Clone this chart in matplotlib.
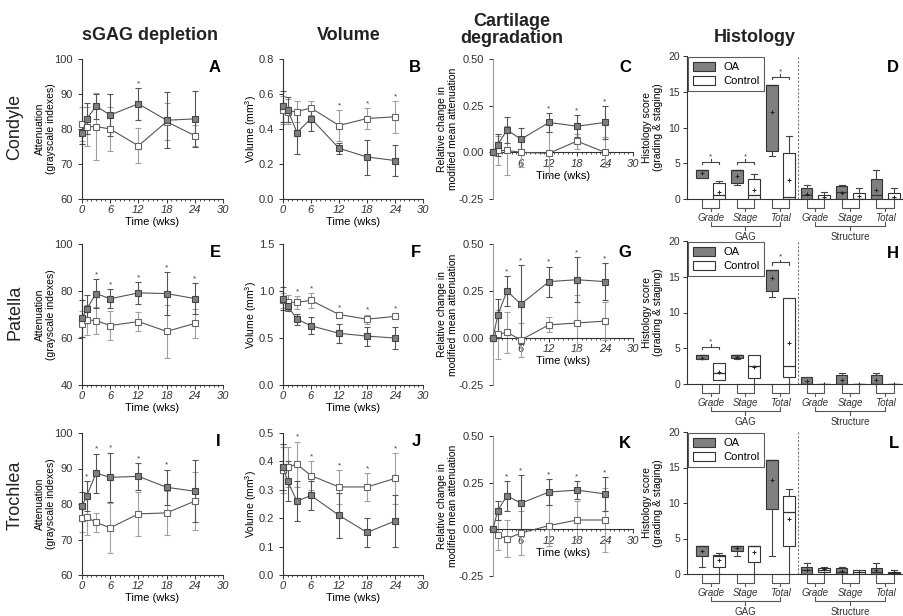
import matplotlib
matplotlib.use("Agg")
import matplotlib.pyplot as plt
from matplotlib.patches import Patch
from matplotlib.transforms import blended_transform_factory

plt.rcParams.update({"font.family": ["Liberation Sans", "DejaVu Sans"], "font.size": 8,
                     "axes.linewidth": 0.8, "axes.edgecolor": "#333333",
                     "xtick.color": "#333333", "ytick.color": "#333333",
                     "xtick.major.size": 3, "ytick.major.size": 3, "xtick.minor.size": 1.6,
                     "xtick.major.width": 0.7, "ytick.major.width": 0.7, "xtick.minor.width": 0.6,
                     "mathtext.default": "regular"})

W, H = 904, 616
weeks = [0, 1, 3, 6, 12, 18, 24]

# ---- line panels: mean and error for OA and control ----
A_oa = [78.8, 82.9, 86.5, 84.0, 87.2, 82.5, 82.9]
A_oa_err = [3.0, 4.4, 3.5, 6.0, 4.6, 8.0, 8.0]
A_ct = [81.4, 80.7, 80.7, 80.0, 75.2, 82.1, 78.1]
A_ct_err = [4.8, 5.5, 9.5, 6.2, 5.0, 5.2, 3.0]
A_stars = [12]

B_oa = [0.53, 0.51, 0.38, 0.46, 0.29, 0.24, 0.22]
B_oa_err = [0.09, 0.07, 0.12, 0.07, 0.03, 0.10, 0.09]
B_ct = [0.51, 0.50, 0.50, 0.52, 0.42, 0.46, 0.47]
B_ct_err = [0.08, 0.07, 0.06, 0.04, 0.09, 0.06, 0.09]
B_stars = [12, 18, 24]

C_oa = [0.0, 0.04, 0.12, 0.07, 0.16, 0.14, 0.16]
C_oa_err = [0.0, 0.06, 0.07, 0.06, 0.05, 0.06, 0.09]
C_ct = [0.0, 0.01, 0.01, 0.0, -0.005, 0.06, 0.0]
C_ct_err = [0.0, 0.08, 0.13, 0.08, 0.115, 0.04, 0.08]
C_stars = [12, 18, 24]

E_oa = [68.3, 72.4, 78.9, 76.7, 79.2, 78.9, 76.8]
E_oa_err = [8.0, 6.0, 6.0, 4.0, 4.8, 9.0, 6.5]
E_ct = [65.8, 67.7, 67.4, 65.3, 67.0, 62.8, 66.2]
E_ct_err = [5.5, 6.5, 5.7, 6.0, 4.2, 11.2, 6.2]
E_stars = [3, 6, 12, 18, 24]

F_oa = [0.92, 0.84, 0.70, 0.63, 0.55, 0.52, 0.50]
F_oa_err = [0.12, 0.05, 0.06, 0.09, 0.10, 0.10, 0.12]
F_ct = [0.90, 0.88, 0.88, 0.90, 0.75, 0.70, 0.73]
F_ct_err = [0.08, 0.08, 0.07, 0.08, 0.03, 0.05, 0.03]
F_stars = [3, 6, 12, 18, 24]

G_oa = [0.0, 0.12, 0.25, 0.18, 0.30, 0.31, 0.30]
G_oa_err = [0.0, 0.09, 0.08, 0.21, 0.08, 0.12, 0.10]
G_ct = [0.0, 0.02, 0.03, -0.01, 0.07, 0.08, 0.09]
G_ct_err = [0.0, 0.13, 0.11, 0.09, 0.04, 0.15, 0.10]
G_stars = [3, 6, 12, 18, 24]

I_oa = [79.3, 82.3, 88.7, 87.5, 87.8, 84.7, 83.6]
I_oa_err = [4.0, 4.2, 5.5, 7.0, 3.8, 5.0, 8.7]
I_ct = [76.1, 76.3, 74.8, 73.3, 77.2, 77.5, 80.8]
I_ct_err = [4.0, 5.0, 2.8, 7.0, 6.3, 6.2, 8.1]
I_stars = [1, 3, 6, 12, 18]

J_oa = [0.38, 0.33, 0.26, 0.28, 0.21, 0.15, 0.19]
J_oa_err = [0.08, 0.07, 0.07, 0.05, 0.08, 0.05, 0.09]
J_ct = [0.37, 0.38, 0.39, 0.35, 0.31, 0.31, 0.34]
J_ct_err = [0.08, 0.07, 0.08, 0.05, 0.06, 0.05, 0.09]
J_stars = [3, 6, 12, 18, 24]

K_oa = [0.0, 0.10, 0.18, 0.14, 0.20, 0.21, 0.19]
K_oa_err = [0.0, 0.05, 0.08, 0.15, 0.07, 0.05, 0.09]
K_ct = [0.0, -0.03, -0.05, -0.02, 0.02, 0.05, 0.05]
K_ct_err = [0.0, 0.08, 0.10, 0.12, 0.11, 0.10, 0.17]
K_stars = [3, 6, 12, 18, 24]

# ---- histology boxes: (whislo, q1, median, q3, whishi, mean), OA/control alternating ----
hist_cats = ["Grade", "Stage", "Total", "Grade", "Stage", "Total"]
hist_groups = ["GAG", "Structure"]
D_boxes = [(3, 3, 4, 4, 4, 3.6), (0, 0, 0.5, 2.3, 2.5, 1.0),
           (2, 2.3, 4, 4, 4, 3.2), (0, 0, 0.5, 2.8, 3.5, 1.2),
           (6, 6.7, 16, 16, 16, 12.2), (0, 0, 0.3, 6.4, 8.8, 2.6),
           (0, 0, 0.5, 1.5, 2.0, 0.7), (0, 0, 0, 0.5, 1.0, 0.3),
           (0, 0, 1.0, 1.8, 2.0, 0.9), (0, 0, 0, 0.8, 1.5, 0.4),
           (0, 0, 0.5, 2.8, 4.0, 1.2), (0, 0, 0, 0.8, 1.5, 0.3)]
D_sig = {0: 5.2, 1: 5.2, 2: 17.1}
H_boxes = [(3.5, 3.5, 4, 4, 4, 3.7), (0.5, 0.5, 1.5, 3.0, 3.0, 1.7),
           (3.5, 3.7, 4, 4, 4, 3.8), (0, 0.8, 2.5, 4.0, 4.0, 2.4),
           (12.2, 13, 16, 16, 16, 14.8), (0, 1, 2.5, 12, 12, 5.7),
           (0, 0, 0, 1.0, 1.0, 0.4), (0, 0, 0, 0, 0, 0),
           (0, 0, 0, 1.2, 1.5, 0.5), (0, 0, 0, 0, 0, 0),
           (0, 0, 0, 1.2, 1.5, 0.5), (0, 0, 0, 0, 0, 0)]
H_sig = {0: 5.2, 2: 17.0}
L_boxes = [(1, 2.5, 4, 4, 4, 3.3), (0, 1, 2.6, 2.7, 3.0, 2.0),
           (2.5, 3.2, 4, 4, 4, 3.7), (0, 1.7, 4, 4, 4, 3.1),
           (2.5, 9.2, 16, 16, 16, 13.3), (0, 4, 8.8, 11, 12, 7.7),
           (0, 0, 0.5, 1.0, 1.5, 0.5), (0, 0.3, 0.6, 0.8, 1.0, 0.7),
           (0, 0, 0.3, 0.8, 1.0, 0.4), (0, 0, 0.3, 0.5, 0.5, 0.3),
           (0, 0, 0.3, 0.8, 1.5, 0.5), (0, 0, 0.2, 0.3, 0.5, 0.3)]
L_sig = {}

OA_FILL, OA_EDGE, OA_ERR = "#808080", "#444444", "#555555"
CT_EDGE, CT_ERR = "#666666", "#a0a0a0"
LINE = "#555555"

fig = plt.figure(figsize=(W / 100, H / 100), dpi=100)


def add(l, t, r, b):
    return fig.add_axes([l / W, 1 - b / H, (r - l) / W, (b - t) / H])


def ftext(x, y, s, **kw):
    fig.text(x / W, 1 - y / H, s, **kw)


def line_panel(ax, box, oa, oa_e, ct, ct_e, stars, ylim, yticks, ylabels, ylabel, lab_px, letter, rel=False):
    ax.errorbar(weeks, ct, yerr=ct_e, fmt="none", ecolor=CT_ERR, elinewidth=0.8, capsize=2.3,
                capthick=0.8, clip_on=False, zorder=2)
    ax.errorbar(weeks, oa, yerr=oa_e, fmt="none", ecolor=OA_ERR, elinewidth=0.8, capsize=2.3,
                capthick=0.8, clip_on=False, zorder=2)
    ax.plot(weeks, ct, "-", color=LINE, lw=0.8, marker="s", ms=4.5, mfc="white", mec=CT_EDGE,
            mew=0.8, clip_on=False, zorder=3)
    ax.plot(weeks, oa, "-", color=LINE, lw=0.8, marker="s", ms=4.5, mfc=OA_FILL, mec=OA_EDGE,
            mew=0.8, clip_on=False, zorder=4)
    span = ylim[1] - ylim[0]
    for w in stars:
        i = weeks.index(w)
        top = max(oa[i] + oa_e[i], ct[i] + ct_e[i])
        ax.text(w, top + 0.005 * span, "*", ha="center", va="bottom", fontsize=6, color="#444")
    ax.set_xlim(0, 30)
    ax.set_ylim(*ylim)
    ax.set_yticks(yticks)
    ax.set_yticklabels(ylabels, fontsize=8)
    ax.set_xticks(range(0, 31, 6))
    ax.set_xticks(range(0, 31), minor=True)
    xl = [str(v) for v in range(0, 31, 6)]
    if rel:
        xl[0] = ""
        ax.spines["bottom"].set_position(("data", 0))
        ax.spines["left"].set_color("#999999")
    ax.set_xticklabels(xl, fontsize=8, style="italic")
    ax.tick_params(axis="x", pad=1.5)
    ax.set_xlabel("Time (wks)", fontsize=8, labelpad=1.5)
    for s in ("top", "right"):
        ax.spines[s].set_visible(False)
    ax.set_ylabel(ylabel, fontsize=7.5, linespacing=1.1)
    ax.yaxis.set_label_coords((lab_px - box[0]) / (box[2] - box[0]), 0.5)
    ax.text((box[2] - 2) / W, 1 - (box[1] + 8) / H, letter, transform=fig.transFigure,
            ha="right", va="center", fontsize=12, fontweight="bold")


def hist_panel(ax, box, stats, sig, letter):
    bx = []
    for (lo, q1, md, q3, hi, mn) in stats:
        bx.append(dict(whislo=lo, q1=q1, med=md, q3=q3, whishi=hi, mean=mn, fliers=[]))
    pos = list(range(1, 13))
    art = ax.bxp(bx, positions=pos, widths=0.67, patch_artist=True, showmeans=True,
                 showfliers=False,
                 boxprops=dict(linewidth=0.8, edgecolor="#333333"),
                 medianprops=dict(color="#333333", linewidth=0.9),
                 whiskerprops=dict(color="#444444", linewidth=0.8),
                 capprops=dict(color="#444444", linewidth=0.8),
                 meanprops=dict(marker="+", markersize=3.5, markeredgecolor="#222222", markeredgewidth=0.7))
    for k, p in enumerate(art["boxes"]):
        p.set_facecolor(OA_FILL if k % 2 == 0 else "white")
    for c in art["caps"]:
        x = c.get_xdata()
        m = (x[0] + x[1]) / 2
        c.set_xdata([m - 0.17, m + 0.17])
    ax.set_xlim(0.15, 12.52)
    ax.set_ylim(0, 20)
    ax.set_yticks([0, 5, 10, 15, 20])
    ax.set_yticklabels(["0", "5", "10", "15", "20"], fontsize=7.5)
    ax.tick_params(axis="y", pad=2)
    ax.set_xticks([])
    for s in ("top", "right"):
        ax.spines[s].set_visible(False)
    ax.axvline(6.5, color="#777777", lw=0.8, ls=(0, (2, 1.5)))
    # significance brackets
    for k, h in sig.items():
        x1, x2 = 1 + 2 * k, 2 + 2 * k
        ax.plot([x1, x1, x2, x2], [h - 0.35, h, h, h - 0.35], color="#444", lw=0.8)
        ax.plot([(x1 + x2) / 2] * 2, [h, h + 0.35], color="#444", lw=0.8)
        ax.text((x1 + x2) / 2, h + 0.25, "*", ha="center", va="bottom", fontsize=6, color="#444")
    # category brackets below the axis
    tr = blended_transform_factory(ax.transData, ax.transAxes)
    hp = box[3] - box[1]
    f = lambda px: -px / hp
    kw = dict(transform=tr, clip_on=False, color="#555555", lw=0.8)
    for k in range(6):
        x1, x2 = 1 + 2 * k, 2 + 2 * k
        ax.plot([x1, x1, x2, x2], [0, f(9), f(9), 0], **kw)
        ax.plot([(x1 + x2) / 2] * 2, [f(9), f(12)], **kw)
        ax.text((x1 + x2) / 2, f(19), hist_cats[k], transform=tr, ha="center", va="center",
                fontsize=7, style="italic", color="#333")
    for g in range(2):
        a, b, c = 1.5 + 6 * g, 3.5 + 6 * g, 5.5 + 6 * g
        ax.plot([a, a, c, c], [f(23), f(27), f(27), f(23)], **kw)
        ax.plot([b, b], [f(27), f(31)], **kw)
        ax.text(b, f(38), hist_groups[g], transform=tr, ha="center", va="center", fontsize=7,
                color="#333")
    ax.legend(handles=[Patch(facecolor=OA_FILL, edgecolor="#333333", lw=0.8, label="OA"),
                       Patch(facecolor="white", edgecolor="#333333", lw=0.8, label="Control")],
              loc="upper left", bbox_to_anchor=(0.0, 1.0), fontsize=8, frameon=True, fancybox=False,
              edgecolor="#333333", borderpad=0.4, handlelength=2.0, handleheight=0.9,
              labelspacing=0.35, borderaxespad=0.1)
    ax.legend_.get_frame().set_linewidth(0.8)
    ax.set_ylabel("Histology score\n(grading & staging)", fontsize=7.5, linespacing=1.1)
    ax.yaxis.set_label_coords((663 - box[0]) / (box[2] - box[0]), 0.5)
    ax.text((box[2] - 4) / W, 1 - (box[1] + 12) / H, letter, transform=fig.transFigure,
            ha="right", va="center", fontsize=12, fontweight="bold")


att_lab = "Attenuation\n(grayscale indexes)"
vol_lab = "Volume (mm$^3$)"
rel_lab = "Relative change in\nmodified mean attenuation"
rel_ticks = [-0.25, 0, 0.25, 0.5]
rel_tl = ["-0.25", "0.00", "0.25", "0.50"]

rows = [(59, 199), (244, 385), (433, 575)]
c1, c2, c3, c4 = (82, 223), (283, 423), (493, 633), (687, 903)

# row 1 - condyle
b = (c1[0], rows[0][0], c1[1], rows[0][1])
line_panel(add(*b), b, A_oa, A_oa_err, A_ct, A_ct_err, A_stars, (60, 100), [60, 70, 80, 90, 100],
           ["60", "70", "80", "90", "100"], att_lab, 56, "A")
b = (c2[0], rows[0][0], c2[1], rows[0][1])
line_panel(add(*b), b, B_oa, B_oa_err, B_ct, B_ct_err, B_stars, (0, 0.8), [0, 0.2, 0.4, 0.6, 0.8],
           ["0.0", "0.2", "0.4", "0.6", "0.8"], vol_lab, 259, "B")
b = (c3[0], rows[0][0], c3[1], rows[0][1])
line_panel(add(*b), b, C_oa, C_oa_err, C_ct, C_ct_err, C_stars, (-0.25, 0.5), rel_ticks, rel_tl,
           rel_lab, 458, "C", rel=True)
b = (c4[0], 56, c4[1], 199)
hist_panel(add(*b), b, D_boxes, D_sig, "D")

# row 2 - patella
b = (c1[0], rows[1][0], c1[1], rows[1][1])
line_panel(add(*b), b, E_oa, E_oa_err, E_ct, E_ct_err, E_stars, (40, 100), [40, 60, 80, 100],
           ["40", "60", "80", "100"], att_lab, 56, "E")
b = (c2[0], rows[1][0], c2[1], rows[1][1])
line_panel(add(*b), b, F_oa, F_oa_err, F_ct, F_ct_err, F_stars, (0, 1.5), [0, 0.5, 1.0, 1.5],
           ["0.0", "0.5", "1.0", "1.5"], vol_lab, 259, "F")
b = (c3[0], rows[1][0], c3[1], rows[1][1])
line_panel(add(*b), b, G_oa, G_oa_err, G_ct, G_ct_err, G_stars, (-0.25, 0.5), rel_ticks, rel_tl,
           rel_lab, 458, "G", rel=True)
b = (c4[0], 241, c4[1], 384)
hist_panel(add(*b), b, H_boxes, H_sig, "H")

# row 3 - trochlea
b = (c1[0], rows[2][0], c1[1], rows[2][1])
line_panel(add(*b), b, I_oa, I_oa_err, I_ct, I_ct_err, I_stars, (60, 100), [60, 70, 80, 90, 100],
           ["60", "70", "80", "90", "100"], att_lab, 56, "I")
b = (c2[0], rows[2][0], c2[1], rows[2][1])
line_panel(add(*b), b, J_oa, J_oa_err, J_ct, J_ct_err, J_stars, (0, 0.5), [0, 0.1, 0.2, 0.3, 0.4, 0.5],
           ["0.0", "0.1", "0.2", "0.3", "0.4", "0.5"], vol_lab, 259, "J")
b = (c3[0], 436, c3[1], 576)
line_panel(add(*b), b, K_oa, K_oa_err, K_ct, K_ct_err, K_stars, (-0.25, 0.5), rel_ticks, rel_tl,
           rel_lab, 458, "K", rel=True)
b = (c4[0], 432, c4[1], 574)
hist_panel(add(*b), b, L_boxes, L_sig, "L")

# column and row titles
tkw = dict(ha="center", va="center", fontsize=13, fontweight="bold", color="#222")
ftext(150, 35, "sGAG depletion", **tkw)
ftext(349, 35, "Volume", **tkw)
ftext(512, 30, "Cartilage\ndegradation", linespacing=1.0, **tkw)
ftext(755, 37, "Histology", **tkw)
rkw = dict(ha="center", va="center", fontsize=13, rotation=90, color="#222")
ftext(15, 127, "Condyle", **rkw)
ftext(15, 312, "Patella", **rkw)
ftext(15, 495, "Trochlea", **rkw)

fig.savefig("out.png", dpi=100)
